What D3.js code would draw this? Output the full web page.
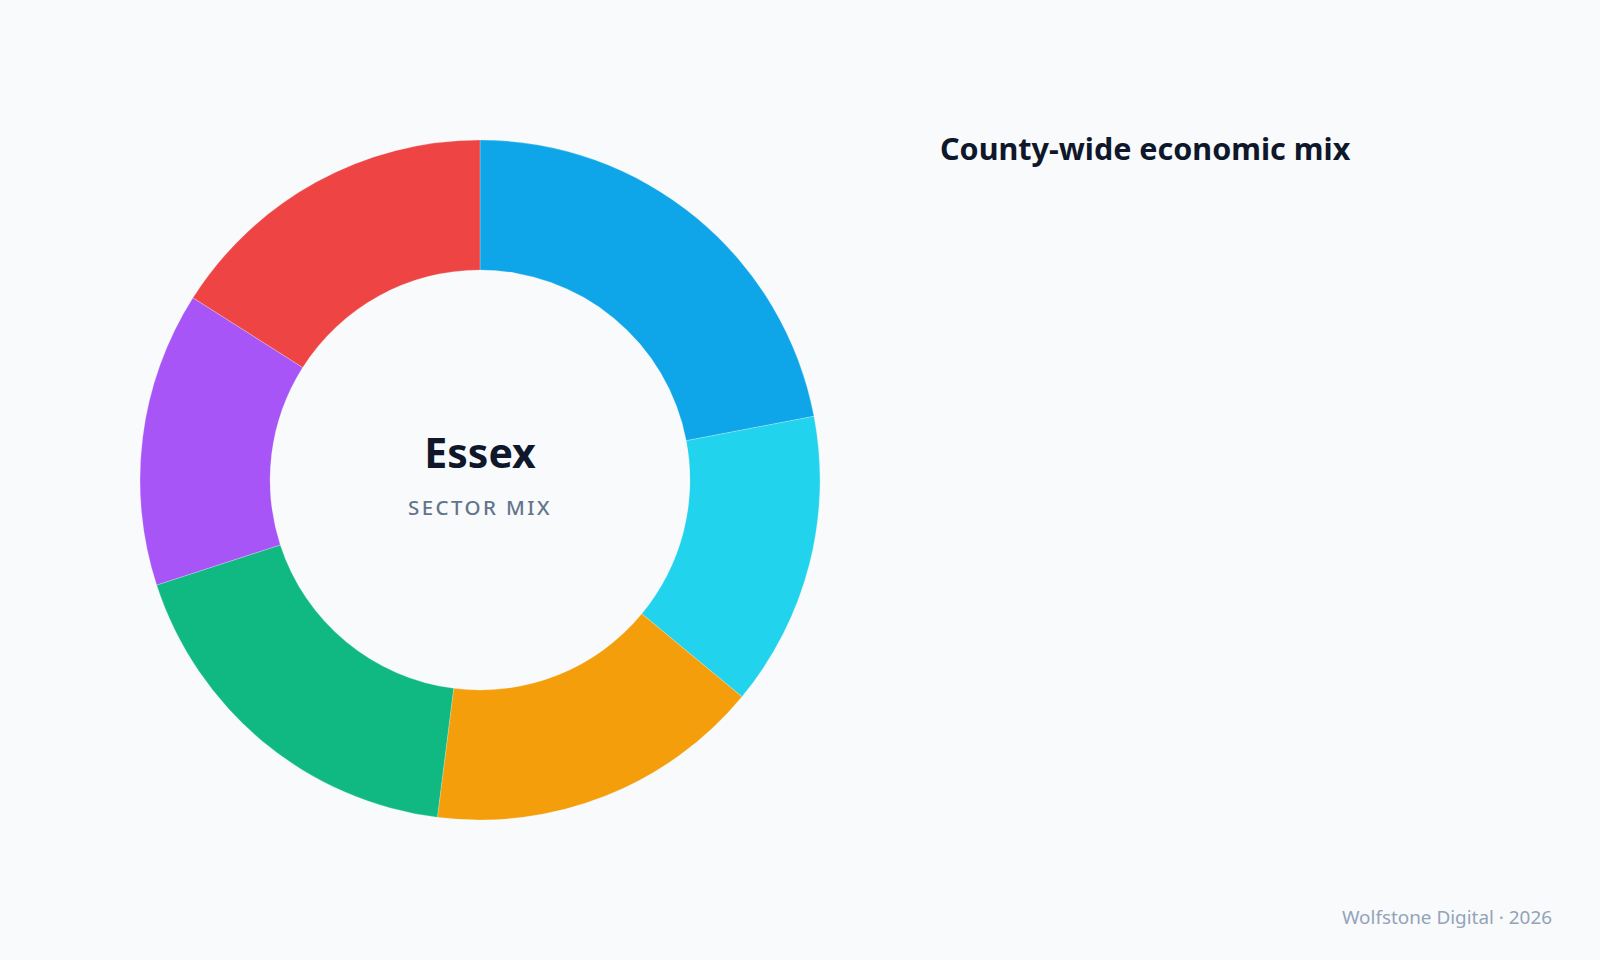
<!DOCTYPE html>
<html>
<head>
<meta charset="utf-8">
<script src="https://cdn.jsdelivr.net/npm/d3@7"></script>
<style>
  html, body { margin: 0; padding: 0; background: #f8fafc; }
  svg { display: block; font-family: "Noto Sans", "Open Sans", sans-serif; }
</style>
</head>
<body>
<div id="chart"></div>
<script>
// sector shares, read clockwise from 12 o'clock
const sectors = ["Services", "Retail", "Manufacturing", "Agriculture", "Tourism", "Construction"];
const shares = [22, 14, 16, 18, 14, 16];
const colors = ["#0ea5e9", "#22d3ee", "#f59e0b", "#10b981", "#a855f7", "#ef4444"];

const width = 1600, height = 960;
const cx = 480, cy = 480;
const outerR = 340, innerR = 210;

const svg = d3.select("#chart")
  .append("svg")
  .attr("width", width)
  .attr("height", height);

svg.append("rect")
  .attr("width", width)
  .attr("height", height)
  .attr("fill", "#f8fafc");

const pie = d3.pie()
  .value(d => d.value)
  .sort(null);

const arc = d3.arc()
  .innerRadius(innerR)
  .outerRadius(outerR);

const color = d3.scaleOrdinal()
  .domain(sectors)
  .range(colors);

const data = sectors.map((s, i) => ({ name: s, value: shares[i] }));

const g = svg.append("g")
  .attr("transform", `translate(${cx},${cy})`);

g.selectAll("path")
  .data(pie(data))
  .enter()
  .append("path")
    .attr("d", arc)
    .attr("fill", d => color(d.data.name))
    .attr("stroke", "#f8fafc")
    .attr("stroke-width", 0.4)
    .attr("stroke-opacity", 0.6);

// centre labels
g.append("text")
  .attr("y", -12)
  .attr("text-anchor", "middle")
  .attr("font-size", 41)
  .attr("font-weight", 700)
  .attr("fill", "#0f172a")
  .text("Essex");

g.append("text")
  .attr("y", 35)
  .attr("text-anchor", "middle")
  .attr("font-size", 20.5)
  .attr("font-weight", 500)
  .attr("letter-spacing", 2.4)
  .attr("fill", "#64748b")
  .text("SECTOR MIX");

// title
svg.append("text")
  .attr("x", 940)
  .attr("y", 160)
  .attr("font-size", 30.5)
  .attr("font-weight", 700)
  .attr("fill", "#0f172a")
  .text("County-wide economic mix");

// footer
svg.append("text")
  .attr("x", 1552)
  .attr("y", 924)
  .attr("text-anchor", "end")
  .attr("font-size", 18.9)
  .attr("fill", "#94a3b8")
  .text("Wolfstone Digital \u00b7 2026");
</script>
</body>
</html>
